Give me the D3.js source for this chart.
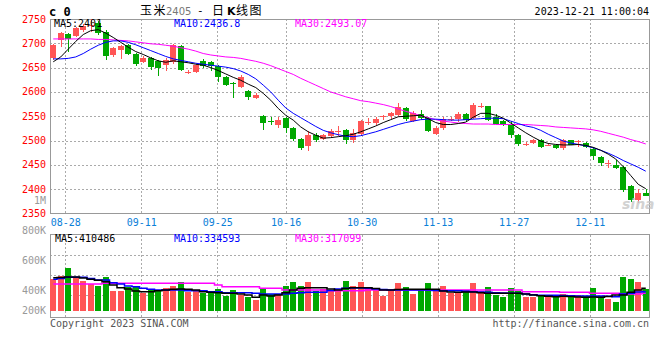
<!DOCTYPE html>
<html><head><meta charset="utf-8">
<script src="https://cdn.jsdelivr.net/npm/d3@7/dist/d3.min.js"></script>
<style>body{margin:0;background:#fff}svg{display:block}text{font-family:"DejaVu Sans Mono","Liberation Mono",monospace}</style>
</head><body><svg id="c" width="660" height="360"></svg>
<script>
// ---------- data ----------
const opens  = [2669,2706,2719,2716,2727,2736,2741,2724,2676,2686,2696,2677,2662,2669,2663,2655,2661,2695,2640,2641,2664,2662,2653,2630,2619,2611,2602,2587,2550,2541,2532,2547,2525,2503,2489,2511,2504,2509,2518,2522,2501,2513,2538,2537,2549,2550,2552,2566,2540,2554,2547,2513,2526,2543,2544,2554,2547,2568,2571,2548,2541,2532,2511,2492,2494,2501,2490,2490,2485,2501,2498,2494,2483,2467,2452,2450,2446,2406,2378,2393];
const closes = [2696,2721,2709,2732,2736,2738,2721,2674,2690,2694,2678,2657,2670,2652,2650,2666,2696,2646,2641,2655,2654,2654,2630,2614,2616,2630,2589,2594,2537,2540,2542,2526,2504,2485,2511,2502,2511,2520,2519,2501,2515,2540,2539,2544,2550,2556,2569,2544,2556,2547,2520,2526,2544,2544,2554,2542,2573,2571,2543,2535,2532,2511,2492,2493,2501,2487,2491,2484,2501,2491,2499,2487,2468,2453,2453,2443,2398,2378,2393,2386];
const highs  = [2698,2724,2721,2734,2740,2750,2746,2727,2693,2696,2698,2680,2673,2671,2665,2670,2698,2697,2646,2657,2668,2664,2656,2632,2621,2634,2604,2598,2552,2548,2548,2549,2528,2505,2520,2516,2513,2524,2530,2524,2524,2543,2546,2549,2553,2559,2577,2570,2561,2562,2549,2530,2549,2549,2558,2557,2578,2578,2572,2555,2543,2540,2513,2498,2503,2504,2495,2492,2503,2502,2501,2498,2486,2469,2460,2460,2448,2408,2401,2401];
const lows   = [2666,2693,2683,2712,2724,2724,2718,2665,2672,2667,2675,2654,2660,2645,2633,2643,2658,2644,2636,2639,2650,2643,2620,2612,2588,2609,2583,2585,2522,2531,2525,2515,2499,2481,2479,2497,2502,2507,2510,2493,2496,2510,2531,2533,2543,2544,2550,2541,2538,2543,2518,2511,2522,2540,2539,2539,2545,2566,2541,2532,2530,2506,2489,2489,2492,2485,2488,2482,2480,2490,2486,2484,2461,2448,2443,2441,2394,2374,2371,2385];
const ma5  = [2662,2672,2688,2704,2718,2726,2728,2721,2712,2702,2692,2683,2677,2670,2664,2661,2664,2662,2660,2657,2655,2650,2644,2637,2630,2624,2616,2609,2597,2583,2566,2552,2542,2528,2518,2511,2505,2506,2508,2510,2513,2518,2524,2530,2537,2543,2549,2550,2551,2552,2545,2537,2533,2533,2535,2538,2548,2556,2556,2552,2546,2536,2526,2516,2507,2499,2494,2492,2491,2491,2492,2490,2486,2480,2472,2462,2446,2428,2410,2401];
const ma10 = [2668,2668,2669,2672,2679,2688,2696,2702,2705,2705,2702,2697,2691,2685,2679,2673,2668,2665,2662,2659,2657,2655,2653,2651,2648,2643,2636,2627,2614,2600,2583,2567,2556,2547,2538,2529,2521,2516,2512,2509,2508,2510,2514,2518,2523,2528,2533,2537,2540,2543,2544,2544,2543,2542,2542,2543,2544,2545,2546,2546,2545,2540,2535,2530,2527,2521,2513,2506,2499,2495,2492,2489,2485,2480,2474,2467,2459,2452,2445,2437];
const ma30 = [2709,2709,2709,2709,2709,2709,2708,2708,2707,2706,2705,2703,2701,2699,2698,2696,2694,2691,2688,2684,2679,2676,2674,2672,2671,2669,2666,2663,2659,2654,2648,2642,2636,2628,2621,2614,2607,2600,2595,2590,2586,2582,2580,2577,2574,2570,2565,2560,2556,2551,2547,2543,2540,2538,2536,2535,2534,2534,2534,2533,2533,2533,2533,2533,2532,2531,2530,2528,2527,2526,2525,2524,2522,2519,2515,2511,2507,2502,2498,2493];
// volume in thousands
const volume = [476,500,551,487,465,445,433,491,398,398,423,431,385,405,405,416,431,458,393,405,385,396,411,365,405,371,358,338,411,378,378,431,458,431,458,398,411,405,405,465,431,458,416,405,367,405,451,425,378,405,451,405,431,385,385,405,451,400,425,371,358,418,398,358,358,371,371,365,378,365,371,365,418,365,345,325,491,478,458,411];
const volMa5  = [487,488,491,491,485,476,469,460,438,420,411,398,393,393,400,405,409,411,409,405,393,389,387,383,383,378,371,356,371,365,371,387,405,416,420,420,420,411,405,415,420,420,420,415,405,405,408,409,409,409,409,409,398,391,389,391,391,387,383,383,383,383,383,378,371,367,363,360,363,361,358,356,358,356,361,371,371,389,405,416];
const volMa10 = [476,481,489,489,489,481,471,471,453,445,431,427,416,409,405,405,405,405,400,400,400,393,393,387,387,387,387,383,378,378,378,378,383,387,389,389,389,401,411,416,418,418,416,411,408,405,405,405,405,405,405,402,400,400,400,396,393,391,389,387,385,383,383,378,373,369,369,369,368,367,365,365,365,365,363,360,378,383,391,393];
const volMa30 = [445,445,445,445,445,445,445,449,449,449,449,449,449,449,449,449,449,449,449,449,449,449,438,427,427,427,427,427,416,416,416,405,405,405,405,405,405,400,400,400,400,400,405,405,405,405,405,405,405,405,405,405,405,405,405,405,405,405,405,405,405,405,405,393,393,393,393,393,389,389,389,389,383,383,383,383,378,378,378,383];
const dateTicks = [{i:2,t:"08-28"},{i:12,t:"09-11"},{i:22,t:"09-25"},{i:31,t:"10-16"},{i:41,t:"10-30"},{i:51,t:"11-13"},{i:61,t:"11-27"},{i:71,t:"12-11"}];
const priceTicks = [2750,2700,2650,2600,2550,2500,2450,2400,2350];
const volTicks = [{v:1000,t:"1M"},{v:800,t:"800K"},{v:600,t:"600K"},{v:400,t:"400K"},{v:200,t:"200K"}];

// ---------- layout ----------
const svg = d3.select("#c");
const L = 50, R = 649.5, T = 19, B = 213.5;
const VT = 234.5, VB = 317.5, VBar = 310.7;
const RED = "#ff5555", GREEN = "#00a800", GRID = "#aaaaaa", AXIS = "#999999";
const idx = d3.range(closes.length);
const xb = d3.scaleBand().domain(idx).range([49.5, 649.5]).paddingInner(0.2).paddingOuter(0.1);
const xc = i => xb(i) + xb.bandwidth() / 2;
const xg = d3.scaleLinear().domain([0, 79]).range([50.5, 651]);
const y = d3.scaleLinear().domain([2350, 2750]).range([B, T]);
const yv = d3.scaleLinear().domain([0, 1000]).range([350.7, 200.7]);
const vgrid = d3.scaleLinear().domain([0, 4]).range([235.3, 315.3]);

// grid lines
const g = svg.append("g").attr("shape-rendering", "crispEdges");
priceTicks.slice(1, -1).forEach(p => g.append("line").attr("x1", L).attr("x2", R).attr("y1", Math.round(y(p)) + .5).attr("y2", Math.round(y(p)) + .5).attr("stroke", GRID).attr("stroke-dasharray", "2,2"));
[1, 2, 3].forEach(k => g.append("line").attr("x1", L).attr("x2", R).attr("y1", Math.round(vgrid(k)) + .5).attr("y2", Math.round(vgrid(k)) + .5).attr("stroke", GRID).attr("stroke-dasharray", "2,2"));
dateTicks.forEach(d => {
  const x = Math.floor(xg(d.i)) + .5;
  g.append("line").attr("x1", x).attr("x2", x).attr("y1", T).attr("y2", B).attr("stroke", GRID).attr("stroke-dasharray", "2,2");
  g.append("line").attr("x1", x).attr("x2", x).attr("y1", VT).attr("y2", VB).attr("stroke", GRID).attr("stroke-dasharray", "2,2");
});

// borders
const bd = svg.append("g").attr("shape-rendering", "crispEdges").attr("stroke", AXIS).attr("fill", "none");
bd.append("path").attr("d", `M${L + .5},${T + .5}H${R}V${B}H${L + .5}Z`);
bd.append("path").attr("d", `M${L + .5},${VT}H${R}V${VB}H${L + .5}Z`);

// candles
const cg = svg.append("g").attr("shape-rendering", "crispEdges");
idx.forEach(i => {
  const up = closes[i] >= opens[i];
  const col = up ? RED : GREEN;
  const cx = Math.round(xc(i)) + .5;
  cg.append("line").attr("x1", cx).attr("x2", cx).attr("y1", y(highs[i])).attr("y2", y(lows[i])).attr("stroke", col);
  const top = y(Math.max(opens[i], closes[i])), bot = y(Math.min(opens[i], closes[i]));
  cg.append("rect").attr("x", Math.round(xb(i))).attr("y", top).attr("width", Math.round(xb.bandwidth())).attr("height", Math.max(1, bot - top)).attr("fill", col);
  // volume bar
  cg.append("rect").attr("x", Math.round(xb(i))).attr("y", yv(volume[i])).attr("width", Math.round(xb.bandwidth())).attr("height", VBar - yv(volume[i])).attr("fill", col);
});

// MA lines
const line = d3.line().x((d, i) => xc(i)).y(d => y(d));
[[ma30, "#ff00ff"], [ma10, "#0000ff"], [ma5, "#000000"]].forEach(([arr, c]) =>
  svg.append("path").attr("d", line(arr)).attr("fill", "none").attr("stroke", c).attr("stroke-width", 1));
const vline = d3.line().x((d, i) => xc(i)).y(d => yv(d)).curve(d3.curveStep);
[[volMa30, "#ff00ff"], [volMa10, "#0000ff"], [volMa5, "#000000"]].forEach(([arr, c]) =>
  svg.append("path").attr("d", vline(arr)).attr("fill", "none").attr("stroke", c).attr("stroke-width", 1.5));

// axis labels
const tx = svg.append("g").attr("font-size", 10);
priceTicks.forEach(p => tx.append("text").attr("x", 46).attr("y", y(p)).attr("dy", "0.35em").attr("text-anchor", "end").attr("fill", "#ff0000").text(p));
volTicks.forEach(d => tx.append("text").attr("x", 46).attr("y", Math.min(yv(d.v), VBar)).attr("dy", "0.35em").attr("text-anchor", "end").attr("fill", "#999").text(d.t));
dateTicks.forEach(d => tx.append("text").attr("x", xg(d.i)).attr("y", 225.5).attr("text-anchor", "middle").attr("fill", "#0a80d8").text(d.t));

// headers
tx.append("text").attr("x", 54).attr("y", 27).attr("fill", "#000").text("MA5:2401");
tx.append("text").attr("x", 174).attr("y", 27).attr("fill", "#0000ff").text("MA10:2436.8");
tx.append("text").attr("x", 295).attr("y", 27).attr("fill", "#ff00ff").text("MA30:2493.07");
tx.append("text").attr("x", 55).attr("y", 242).attr("fill", "#000").text("MA5:410486");
tx.append("text").attr("x", 174).attr("y", 242).attr("fill", "#0000ff").text("MA10:334593");
tx.append("text").attr("x", 295).attr("y", 242).attr("fill", "#ff00ff").text("MA30:317099");
tx.append("text").attr("x", 649).attr("y", 15).attr("text-anchor", "end").attr("fill", "#000").text("2023-12-21 11:00:04");
tx.append("text").attr("x", 50).attr("y", 327).attr("fill", "#555").text("Copyright 2023 SINA.COM");
tx.append("text").attr("x", 649).attr("y", 327).attr("text-anchor", "end").attr("fill", "#555").text("http://finance.sina.com.cn");
svg.append("text").attr("x", 49).attr("y", 16).attr("font-size", 12).attr("font-weight", "bold").text("c 0");

// title
const cjk = "'Noto Sans CJK SC',sans-serif";
const tt = svg.append("g").attr("font-size", 12).attr("fill", "#000");
tt.append("text").attr("x", 140).attr("y", 15).style("font-family", cjk).attr("letter-spacing", 1.5).text("玉米");
tt.append("text").attr("x", 166).attr("y", 15).attr("fill", "#777").attr("font-size", 10).style("font-family", "'DejaVu Sans'").text("2405");
tt.append("text").attr("x", 197).attr("y", 14).attr("font-size", 11).text("-");
tt.append("text").attr("x", 212).attr("y", 15).style("font-family", cjk).text("日");
tt.append("text").attr("x", 227).attr("y", 15).attr("font-weight", "bold").style("font-family", "'DejaVu Sans'").attr("font-size", 11).text("K");
tt.append("text").attr("x", 236).attr("y", 15).style("font-family", cjk).attr("letter-spacing", 1.5).text("线图");

// watermark
svg.append("text").attr("x", 622).attr("y", 209).attr("font-size", 14).attr("font-style", "italic").attr("font-weight", "bold").attr("fill", "#c8c8c8").attr("opacity", 0.8).style("font-family", "'DejaVu Sans'").text("sina");
</script></body></html>
